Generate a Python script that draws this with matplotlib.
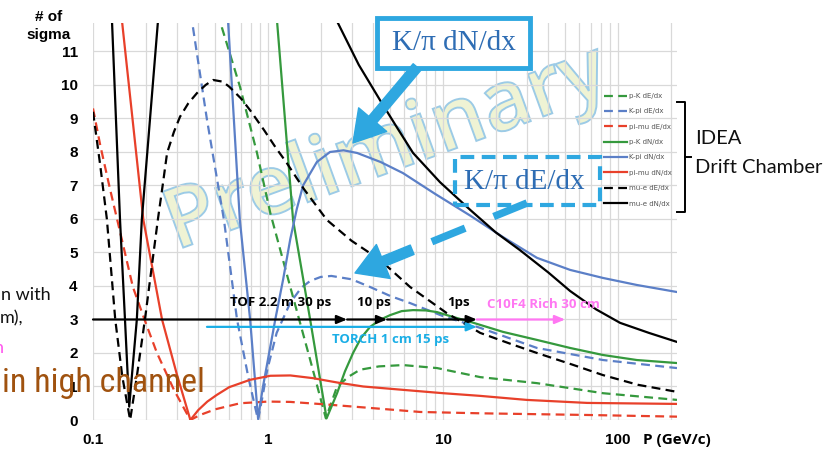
import numpy as np
import matplotlib
matplotlib.use('Agg')
import matplotlib.pyplot as plt
import matplotlib.patheffects as pe
from matplotlib import font_manager
from matplotlib.patches import Rectangle, FancyArrowPatch
from matplotlib.lines import Line2D
from matplotlib.ticker import FixedLocator, NullFormatter

# Separation power (number of sigma) vs momentum P (GeV/c)
# p-K dE/dx (green dashed)
pk_dedx_p = [0.50, 0.546, 0.692, 0.865, 1.03, 1.34, 1.74, 2.14, 2.48, 2.9, 3.35, 4.3, 5.9, 9.24, 16.3, 34.4, 82, 217]
pk_dedx_s = [13.5, 11.7, 9.94, 7.97, 6.18, 3.97, 1.8, 0.05, 1.0, 1.3, 1.5, 1.6, 1.64, 1.55, 1.28, 1.1, 0.8, 0.6]
# K-pi dE/dx (blue dashed)
kpi_dedx_p = [0.34, 0.368, 0.448, 0.56, 0.665, 0.77, 0.877, 0.93, 0.99, 1.12, 1.34, 1.55, 1.74, 2.0, 2.3, 3.0, 3.83,
              5.0, 6.48, 10, 16.3, 34.4, 82, 217]
kpi_dedx_s = [13.5, 11.9, 8.96, 5.97, 3.0, 1.3, 0.0, 0.7, 1.5, 2.6, 3.5, 3.95, 4.15, 4.27, 4.3, 4.2, 3.97,
              3.7, 3.49, 3.1, 2.75, 2.15, 1.79, 1.55]
# pi-mu dE/dx (red dashed)
pimu_dedx_p = [0.1, 0.11, 0.125, 0.143, 0.169, 0.2, 0.232, 0.29, 0.36, 0.409, 0.5, 0.692, 1.0, 1.34, 2.2, 3.83,
               7.39, 16.3, 66.5, 217]
pimu_dedx_s = [9.3, 8.2, 6.9, 5.6, 3.97, 2.9, 2.0, 0.9, 0.0, 0.15, 0.32, 0.5, 0.55, 0.54, 0.46, 0.36,
               0.24, 0.2, 0.15, 0.1]
# p-K dN/dx (green solid)
pk_dndx_p = [1.05, 1.126, 1.39, 1.74, 2.16, 2.48, 2.75, 3.06, 3.4, 3.83, 4.4, 4.98, 5.8, 6.74, 8.0, 9.24, 11, 14.3,
             22, 34.4, 53.2, 82, 128, 217]
pk_dndx_s = [13.5, 11.9, 5.97, 3.0, 0.05, 0.8, 1.45, 2.0, 2.45, 2.78, 3.0, 3.13, 3.25, 3.28, 3.27, 3.22, 3.1, 2.93,
             2.63, 2.39, 2.15, 1.94, 1.79, 1.7]
# K-pi dN/dx (blue solid)
kpi_dndx_p = [0.57, 0.591, 0.69, 0.79, 0.877, 0.936, 1.1, 1.22, 1.34, 1.46, 1.585, 1.9, 2.26, 2.7, 3.23, 4.4, 5.9,
              9.0, 14.3, 22, 34.4, 53.2, 82, 128, 217]
kpi_dndx_s = [13.5, 11.9, 5.97, 3.0, 0.05, 1.0, 3.0, 4.2, 5.4, 6.3, 7.0, 7.7, 8.0, 8.05, 7.97, 7.7, 7.37,
              6.75, 6.1, 5.46, 4.84, 4.48, 4.24, 4.03, 3.82]
# pi-mu dN/dx (red solid)
pimu_dndx_p = [0.14, 0.1465, 0.194, 0.248, 0.30, 0.36, 0.4, 0.45, 0.51, 0.6, 0.79, 1.03, 1.34, 1.8, 2.48, 3.5,
               5.9, 10, 16.3, 30, 66.5, 217]
pimu_dndx_s = [13.5, 11.9, 5.97, 3.0, 1.4, 0.0, 0.3, 0.55, 0.75, 0.98, 1.2, 1.32, 1.33, 1.25, 1.12, 1.0,
               0.9, 0.8, 0.72, 0.6, 0.51, 0.48]
# mu-e dE/dx (black dashed)
mue_dedx_p = [0.1, 0.11, 0.12, 0.134, 0.147, 0.163, 0.178, 0.198, 0.235, 0.25, 0.265, 0.29, 0.314, 0.35, 0.393,
              0.44, 0.485, 0.55, 0.6, 0.7, 0.789, 0.95, 1.1, 1.28, 1.6, 2.17, 3.0, 4.36, 6.48, 10.5, 16.3, 25,
              34.4, 55, 82, 130, 217]
mue_dedx_s = [9.2, 7.6, 6.0, 3.0, 1.3, 0.0, 1.3, 3.0, 6.0, 7.0, 7.97, 8.6, 9.05, 9.45, 9.76,
              10.0, 10.15, 10.1, 9.95, 9.6, 9.25, 8.65, 8.15, 7.67, 6.9, 5.97, 5.35, 4.78, 3.97, 3.19, 2.6, 2.25,
              2.0, 1.65, 1.34, 1.05, 0.84]
# mu-e dN/dx (black solid), goes off the top between the two visible parts
mue_dndx_p = [0.124, 0.1284, 0.1427, 0.1523, 0.161, 0.178, 0.19, 0.235, 0.25, np.nan, 2.2, 2.48, 3.3, 4.36, 5.5,
              6.74, 9.6, 14.3, 20, 27.5, 40, 53.2, 75, 102.6, 150, 217]
mue_dndx_s = [14, 11.9, 5.97, 3.0, 0.4, 3.0, 5.97, 11.9, 14, np.nan, 13.2, 11.9, 10.6, 9.55, 8.7,
              7.97, 7.1, 6.27, 5.6, 5.07, 4.4, 3.85, 3.3, 2.9, 2.6, 2.33]

# timing reach lines (momentum limits at 3 sigma)
tof_breaks = [0.1, 2.83, 4.79, 15.6]
torch_range = [0.448, 15.6]
rich_range = [15.6, 49.8]

GREEN = '#35993d'
BLUE = '#5b7fc7'
RED = '#e8402a'
CYAN = '#1aaee6'
PINK = '#ff77f2'
CALLOUT = '#2ea7e0'

W, H = 833, 451


def fxy(x, y):
    # pixel position on the slide -> figure fraction
    return (x / W, 1 - y / H)


fig = plt.figure(figsize=(W / 100, H / 100), dpi=100)
ax = fig.add_axes([93 / W, 1 - 420 / H, (677 - 93) / W, (420 - 23) / H])
ax.set_xscale('log')
ax.set_xlim(0.1, 217)
ax.set_ylim(0, 11.85)

dash = (0, (4, 2.4))
lw = 1.6
series = [
    (pk_dedx_p, pk_dedx_s, GREEN, dash, 'p-K dE/dx'),
    (kpi_dedx_p, kpi_dedx_s, BLUE, dash, 'K-pi dE/dx'),
    (pimu_dedx_p, pimu_dedx_s, RED, dash, 'pi-mu dE/dx'),
    (pk_dndx_p, pk_dndx_s, GREEN, '-', 'p-K dN/dx'),
    (kpi_dndx_p, kpi_dndx_s, BLUE, '-', 'K-pi dN/dx'),
    (pimu_dndx_p, pimu_dndx_s, RED, '-', 'pi-mu dN/dx'),
    (mue_dedx_p, mue_dedx_s, 'black', dash, 'mu-e dE/dx'),
    (mue_dndx_p, mue_dndx_s, 'black', '-', 'mu-e dN/dx'),
]
for p, s, c, ls, lab in series:
    ax.plot(p, s, color=c, ls=ls, lw=lw, label=lab, zorder=3, solid_joinstyle='round')

# grid, no frame
for sp in ax.spines.values():
    sp.set_visible(False)
ax.xaxis.set_minor_locator(FixedLocator([m * 10.0 ** e for e in range(-1, 3) for m in range(2, 10)]))
ax.xaxis.set_minor_formatter(NullFormatter())
ax.set_xticks([0.1, 1, 10, 100])
ax.set_xticklabels(['0.1', '1', '10', '100'])
ax.set_yticks(range(12))
ax.grid(True, which='both', axis='x', color='#d9d9d9', lw=0.9, zorder=0)
ax.grid(True, which='major', axis='y', color='#d9d9d9', lw=0.9, zorder=0)
ax.tick_params(which='both', length=0)
ax.tick_params(axis='y', pad=11)
ax.tick_params(axis='x', pad=9)
for t in ax.get_xticklabels() + ax.get_yticklabels():
    t.set_fontfamily('Liberation Sans')
    t.set_fontweight('bold')
    t.set_fontsize(11)

fig.text(*fxy(49, 26), '# of\nsigma', ha='center', va='center', fontsize=11,
         fontweight='bold', family='Liberation Sans', linespacing=1.3)
fig.text(*fxy(643, 440), 'P (GeV/c)', ha='left', va='center', fontsize=11,
         fontweight='bold', family='Open Sans')

# legend
ax.legend(loc='upper left', bbox_to_anchor=fxy(604, 93), bbox_transform=fig.transFigure,
          frameon=False, fontsize=5, labelcolor='#555555', handlelength=3.3,
          handletextpad=0.3, labelspacing=1.35, borderpad=0, borderaxespad=0)

# watermark
ax.text(*fxy(387, 150), 'Preliminary', transform=fig.transFigure, rotation=20,
        rotation_mode='anchor', ha='center', va='center', fontsize=60, fontweight='semibold',
        family='Open Sans', zorder=1.5,
        path_effects=[pe.PathPatchEffect(facecolor='#eff3d4', edgecolor='#9ccbe6', linewidth=1.4)])

# timing arrows
head = '-|>,head_length=0.6,head_width=0.25'
for a, b in zip(tof_breaks[:-1], tof_breaks[1:]):
    ax.annotate('', xy=(b, 3.0), xytext=(a, 3.0),
                arrowprops=dict(arrowstyle=head, color='black', lw=1.6, shrinkA=0, shrinkB=0), zorder=4)
ax.annotate('', xy=(rich_range[1], 3.0), xytext=(rich_range[0], 3.0),
            arrowprops=dict(arrowstyle=head, color=PINK, lw=1.6, shrinkA=0, shrinkB=0), zorder=4)
ax.annotate('', xy=(torch_range[1], 2.78), xytext=(torch_range[0], 2.78),
            arrowprops=dict(arrowstyle=head, color=CYAN, lw=1.6, shrinkA=0, shrinkB=0), zorder=4)
tkw = dict(fontsize=9.5, fontweight='bold', family='Open Sans', va='center', ha='left', zorder=5)
ax.text(0.607, 3.52, 'TOF 2.2 m 30 ps', color='black', **tkw)
ax.text(3.23, 3.52, '10 ps', color='black', **tkw)
ax.text(10.5, 3.52, '1ps', color='black', **tkw)
ax.text(17.8, 3.46, 'C10F4 Rich 30 cm', color=PINK, **tkw)
ax.text(2.32, 2.39, 'TORCH 1 cm 15 ps', color=CYAN, **tkw)

# callout boxes
box = Rectangle(fxy(377, 68), 153 / W, 50 / H, transform=fig.transFigure,
                fc='white', ec=CALLOUT, lw=3.5, zorder=5)
fig.add_artist(box)
fig.text(*fxy(454, 43), 'K/\u03c0 dN/dx', ha='center', va='center', fontsize=21,
         family='Liberation Serif', color='#2e6db4', zorder=6)
dbox = Rectangle(fxy(455, 205), 145 / W, 48 / H, transform=fig.transFigure,
                 fill=False, ec=CALLOUT, lw=3, ls=(0, (3.3, 1.8)), zorder=5)
fig.add_artist(dbox)
fig.text(*fxy(524, 182), 'K/\u03c0 dE/dx', ha='center', va='center', fontsize=21,
         family='Liberation Serif', color='#2e6db4', zorder=6)

arrow_style = 'simple,head_length=1.0,head_width=1.2,tail_width=0.33'
fig.add_artist(FancyArrowPatch(fxy(417, 67), fxy(353, 143), transform=fig.transFigure,
                               arrowstyle=arrow_style, mutation_scale=22, color=CALLOUT,
                               shrinkA=0, shrinkB=0, zorder=5))
# dashed arrow: dashed shaft + solid head
tail = np.array([527.0, 203.0])
tip = np.array([355.0, 273.0])
u = (tip - tail) / np.hypot(*(tip - tail))
mid = tail + u * 104
fig.add_artist(Line2D([fxy(*tail)[0], fxy(*mid)[0]], [fxy(*tail)[1], fxy(*mid)[1]],
                      transform=fig.transFigure, color=CALLOUT, lw=5.4,
                      ls=(0, (4.8, 4.1)), zorder=5))
hs = tail + u * 124
fig.add_artist(FancyArrowPatch(fxy(*hs), fxy(*tip), transform=fig.transFigure,
                               arrowstyle=arrow_style, mutation_scale=22, color=CALLOUT,
                               shrinkA=0, shrinkB=0, zorder=5))

# bracket for the drift chamber legend
bx = [677, 685, 685, 677]
by = [102, 102, 212, 212]
fig.add_artist(Line2D([x / W for x in bx], [1 - y / H for y in by], transform=fig.transFigure,
                      color='black', lw=1.4))
fig.add_artist(Line2D([685 / W, 691 / W], [1 - 157 / H, 1 - 157 / H], transform=fig.transFigure,
                      color='black', lw=1.4))
side = dict(ha='left', va='center', fontsize=14.5, family='Lato', color='#111111')
fig.text(*fxy(695, 139), 'IDEA', **side)
fig.text(*fxy(695, 167), 'Drift Chamber', **side)

# text cut off by the slide edge on the left
left = dict(ha='left', va='center', fontsize=13, family='Lato')
fig.text(*fxy(1, 295), 'n with', color='#111111', **left)
fig.text(*fxy(0, 318), 'm),', color='#111111', **left)
fig.text(*fxy(-6, 348), 'n', color='#ff55ee', **left)

# narrow font for the brown line if one is installed
names = {f.name for f in font_manager.fontManager.ttflist}
cond = [f.name for f in font_manager.fontManager.ttflist if 'condensed' in str(f.stretch)]
if 'Roboto Condensed' in names:
    brown = dict(family='Roboto Condensed', fontsize=24.5)
elif 'Liberation Sans Narrow' in names:
    brown = dict(family='Liberation Sans Narrow', fontsize=25)
elif cond:
    brown = dict(family=cond[0], stretch='condensed', fontsize=25)
else:
    brown = dict(family='DejaVu Sans', fontsize=19)
fig.text(*fxy(2, 392), 'in high channel', ha='left', va='baseline', color='#a0520f', zorder=6, **brown)

fig.savefig('out.png', dpi=100)
